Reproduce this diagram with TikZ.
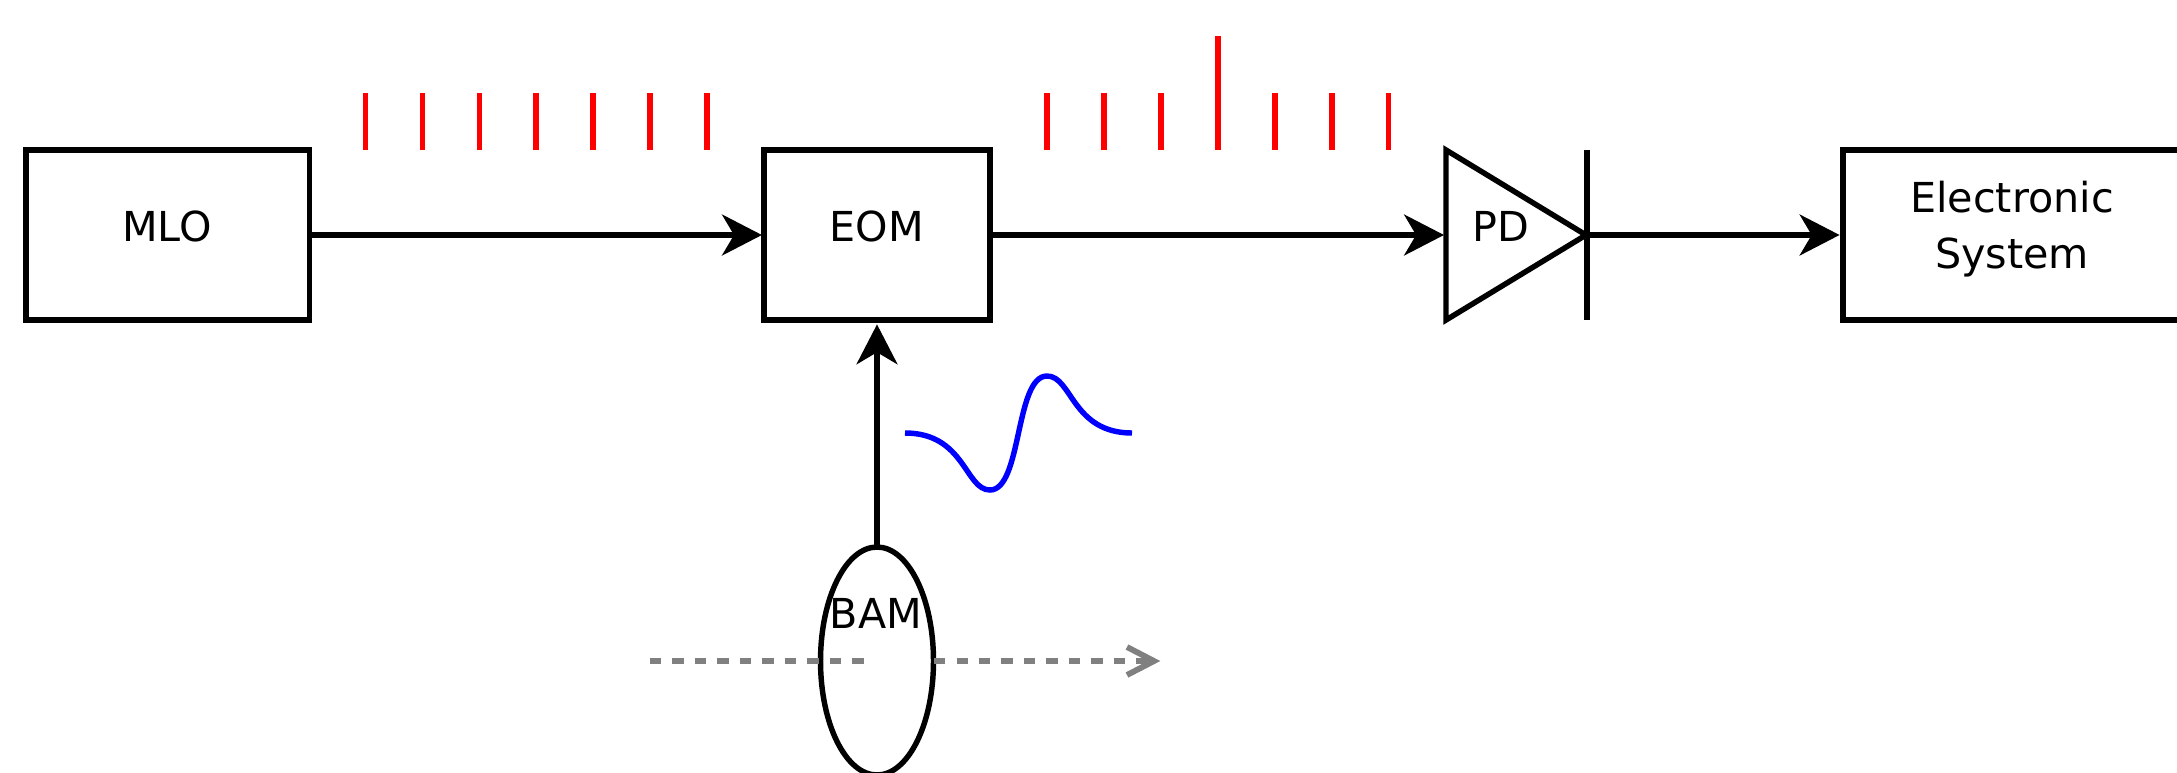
\documentclass[tikz,border=0pt]{standalone}
\usepackage{fontspec}
\setmainfont{DejaVu Sans}
\usetikzlibrary{arrows.meta,shapes.geometric}
\tikzset{
  boxnode/.style={draw=black,line width=3.1pt,rectangle,inner sep=0pt,outer sep=0pt,fill=white},
  label text/.style={font=\fontsize{23.5}{32}\selectfont,anchor=base,inner sep=0pt,outer sep=0pt,text=black},
  conn/.style={draw=black,line width=3.1pt,-{Stealth[length=40*0.567pt,width=41*0.567pt,inset=12*0.567pt]}},
  tick/.style={draw=red,line width=3.1pt},
  wave/.style={draw=blue,line width=3.1pt},
  beam/.style={draw=gray,line width=3.3pt,dash pattern=on 6.5pt off 6.3pt},
}
\begin{document}
\begin{tikzpicture}[x=0.02cm,y=-0.02cm]
\useasboundingbox (0,0) rectangle (2177,772);
\clip (0,0) rectangle (2177,772);
\fill[white] (0,0) rectangle (2177,772);
% red pulse trains
\foreach \px in {365.5,422.5,479.5,536,593,650,707} {\draw[tick] (\px,93) -- (\px,150);}
\foreach \px in {1047,1104,1161,1275,1332,1388.5} {\draw[tick] (\px,93) -- (\px,150);}
\draw[tick] (1218,36) -- (1218,150);
% boxes
\node[boxnode,minimum width=5.67cm,minimum height=3.4cm] (mlo) at (167.5,235) {};
\node[boxnode,minimum width=4.52cm,minimum height=3.4cm] (eom) at (877,235) {};
\node[boxnode,minimum width=14.4cm,minimum height=3.4cm] (es) at (2203,235) {};
\node[label text] (mlot) at (167,241) {MLO};
\node[label text] (eomt) at (877,241) {EOM};
\node[label text] (es1) at (2012,212.5) {Electronic};
\node[label text] (es2) at (2012,268.5) {System};
% photodiode
\coordinate (pdtop) at (1446,150);
\coordinate (pdbot) at (1446,320);
\coordinate (pdtip) at (1586,235);
\coordinate (bartop) at (1587,150);
\coordinate (barbot) at (1587,320);
\draw[line width=3.1pt,miter limit=10] (pdtop) -- (pdtip) -- (pdbot) -- cycle;
\draw[line width=3.1pt] (bartop) -- (barbot);
\node[label text] (pdt) at (1501,241) {PD};
% BAM
\node[draw=black,line width=3.1pt,ellipse,minimum width=2.26cm,minimum height=4.56cm,inner sep=0pt,outer sep=0pt] (bam) at (877,661) {};
\node[label text] (bamt) at (876,628.5) {BAM};
% beam
\coordinate (b1) at (650,661);
\coordinate (b2) at (866,661);
\coordinate (b3) at (934,661);
\coordinate (b4) at (1150,661);
\draw[beam] (b1) -- (b2);
\draw[beam] (b3) -- (b4);
\draw[draw=gray,line width=3.3pt,miter limit=10] (1127,647) -- (1154,661) -- (1127,675);
% connectors
\draw[conn,shorten >=1.2pt] (mlo.east) -- (eom.west);
\draw[conn] (eom.east) -- (1444,235);
\draw[conn,shorten >=2pt] (pdtip) -- (es.west);
\draw[conn,shorten >=2.5pt] (bam.north) -- (eom.south);
% wave
\draw[wave] (905,433) .. controls (965,433) and (965,490) .. (990,490)
  .. controls (1022,490) and (1015,376) .. (1047,376)
  .. controls (1072,376) and (1072,433) .. (1132,433);
\end{tikzpicture}
\end{document}
